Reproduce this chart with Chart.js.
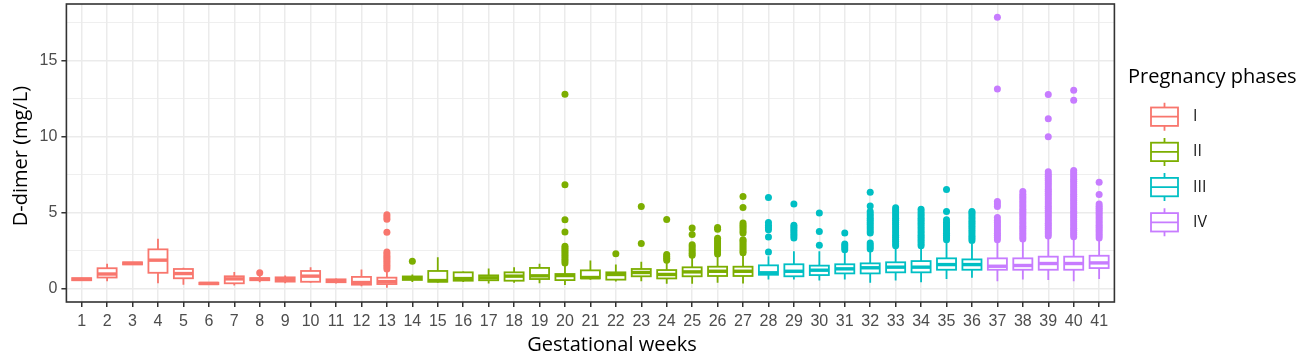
<!DOCTYPE html>
<html><head><meta charset="utf-8">
<script src="https://cdn.jsdelivr.net/npm/chart.js@4.4.1/dist/chart.umd.min.js"></script>
<style>html,body{margin:0;padding:0;background:#fff}#wrap{width:1307px;height:360px}</style>
</head><body><div id="wrap"><canvas id="c" width="1307" height="360"></canvas></div>
<script>
// ---------- data ----------
const weeks = [1,2,3,4,5,6,7,8,9,10,11,12,13,14,15,16,17,18,19,20,21,22,23,24,25,26,27,28,29,30,31,32,33,34,35,36,37,38,39,40,41];
const phaseOfWeek = [0,0,0,0,0,0,0,0,0,0,0,0,0, 1,1,1,1,1,1,1,1,1,1,1,1,1,1, 2,2,2,2,2,2,2,2,2, 3,3,3,3,3];
const phaseNames = ['I','II','III','IV'];
const phaseColors = ['#F8766D','#7CAE00','#00BFC4','#C77CFF'];
const whiskerLow  = [0.52,0.48,1.56,0.35,0.24,0.26,0.20,0.41,0.35,0.37,0.32,0.15,0.05,0.42,0.37,0.42,0.33,0.37,0.35,0.22,0.58,0.45,0.48,0.31,0.31,0.37,0.33,0.59,0.59,0.52,0.59,0.37,0.52,0.41,0.63,0.70,0.48,0.59,0.55,0.48,0.63];
const q1          = [0.54,0.72,1.58,1.03,0.67,0.28,0.34,0.54,0.45,0.44,0.41,0.25,0.29,0.56,0.44,0.51,0.54,0.51,0.62,0.55,0.66,0.58,0.80,0.66,0.80,0.82,0.82,0.90,0.80,0.88,0.99,0.99,1.06,1.06,1.23,1.23,1.23,1.23,1.23,1.23,1.34];
const median      = [0.60,0.95,1.65,1.86,0.98,0.33,0.63,0.61,0.58,0.81,0.50,0.39,0.45,0.67,0.52,0.65,0.70,0.81,0.83,0.85,0.72,0.92,1.05,0.92,1.09,1.13,1.13,1.03,1.13,1.20,1.29,1.36,1.40,1.40,1.57,1.57,1.46,1.51,1.64,1.64,1.68];
const q3          = [0.68,1.33,1.72,2.57,1.28,0.38,0.80,0.68,0.73,1.15,0.60,0.76,0.71,0.79,1.15,1.06,0.86,1.06,1.35,0.95,1.19,1.06,1.28,1.21,1.39,1.43,1.43,1.52,1.59,1.50,1.59,1.65,1.72,1.80,1.98,1.91,1.98,1.98,2.09,2.09,2.15];
const whiskerHigh = [0.70,1.62,1.74,3.27,1.36,0.40,1.09,0.85,0.85,1.40,0.66,1.24,1.20,0.92,2.05,1.12,1.31,1.40,1.62,1.57,1.83,1.57,1.75,1.79,2.12,2.20,2.20,2.12,2.44,2.44,2.38,2.55,2.66,2.70,3.10,2.95,3.03,3.16,3.38,3.30,3.25];
const outliers = [
  [], [], [], [], [], [], [],
  [1.03],
  [], [], [], [],
  [1.28,1.42,1.56,1.70,1.84,1.98,2.12,2.26,2.40,3.69,4.55,4.70,4.85],
  [1.79],
  [], [], [], [], [],
  [1.68,1.82,1.96,2.10,2.24,2.38,2.52,2.65,2.77,3.71,4.52,6.81,12.77],
  [],
  [2.29],
  [2.96,5.38],
  [1.85,1.98,2.10,2.23,4.53],
  [2.18,2.32,2.46,2.60,2.74,2.88,3.54,3.97],
  [2.27,2.40,2.53,2.66,2.79,2.92,3.05,3.18,3.30,3.90,4.00],
  [2.34,2.47,2.60,2.73,2.86,2.99,3.12,3.21,3.64,3.78,3.92,4.06,4.18,4.30,5.32,6.04],
  [2.40,3.38,3.86,4.00,4.16,4.34,5.98],
  [3.32,3.46,3.60,3.74,3.88,4.02,4.15,5.55],
  [2.84,3.75,4.96],
  [2.55,2.68,2.80,2.93,3.64],
  [2.60,2.73,2.86,2.99,3.64,3.78,3.92,4.06,4.20,4.34,4.48,4.62,4.76,4.90,5.06,5.42,6.32],
  [2.80,2.94,3.08,3.22,3.36,3.50,3.64,3.78,3.92,4.06,4.20,4.34,4.48,4.62,4.76,4.90,5.04,5.18,5.30],
  [2.80,2.94,3.08,3.22,3.36,3.50,3.64,3.78,3.92,4.06,4.20,4.34,4.48,4.62,4.76,4.90,5.04,5.20],
  [3.21,3.35,3.49,3.63,3.77,3.91,4.05,4.19,4.33,4.52,5.06,6.50],
  [3.16,3.30,3.44,3.58,3.72,3.86,4.00,4.14,4.28,4.42,4.56,4.70,4.84,4.98,5.06],
  [3.21,3.35,3.49,3.63,3.77,3.91,4.05,4.19,4.33,4.47,4.67,5.39,5.55,5.72,13.12,17.83],
  [3.25,3.39,3.53,3.67,3.81,3.95,4.09,4.23,4.37,4.51,4.65,4.79,4.93,5.07,5.21,5.35,5.49,5.63,5.77,5.91,6.05,6.19,6.37],
  [3.45,3.59,3.73,3.87,4.01,4.15,4.29,4.43,4.57,4.71,4.85,4.99,5.13,5.27,5.41,5.55,5.69,5.83,5.97,6.11,6.25,6.39,6.53,6.67,6.81,6.95,7.09,7.23,7.37,7.51,7.68,9.97,11.15,12.75],
  [3.40,3.54,3.68,3.82,3.96,4.10,4.24,4.38,4.52,4.66,4.80,4.94,5.08,5.22,5.36,5.50,5.64,5.78,5.92,6.06,6.20,6.34,6.48,6.62,6.76,6.90,7.04,7.18,7.32,7.46,7.60,7.75,12.38,13.03],
  [3.32,3.46,3.60,3.74,3.88,4.02,4.16,4.30,4.44,4.58,4.72,4.86,5.00,5.14,5.28,5.40,5.55,6.18,6.98]
];
const yMajorTicks = [0,5,10,15];
const yMinorTicks = [2.5,7.5,12.5,17.5];
const xTitle = 'Gestational weeks';
const yTitle = 'D-dimer (mg/L)';
const legendTitle = 'Pregnancy phases';

// ---------- styles ----------
const TITLE_FONT = '20px "Open Sans", "Noto Sans", sans-serif';
const TICK_FONT_FAMILY = '"Liberation Sans", Arial, sans-serif';
const colorOfIndex = i => phaseColors[phaseOfWeek[i]];
const LINE_W = 1.8, MEDIAN_W = 3.4;

const boxData = weeks.map((w, i) => ({x: w, y: [q1[i], q3[i]]}));
const outlierData = [];
outliers.forEach((arr, i) => arr.forEach(v => outlierData.push({x: weeks[i], y: v, p: phaseOfWeek[i]})));

const boxPlugin = {
  id: 'boxExtras',
  beforeDatasetsDraw(chart) {
    const {ctx, scales: {x, y}} = chart;
    ctx.save();
    ctx.lineWidth = LINE_W;
    ctx.lineCap = 'butt';
    weeks.forEach((w, i) => {
      const px = x.getPixelForValue(w);
      ctx.strokeStyle = colorOfIndex(i);
      ctx.beginPath();
      ctx.moveTo(px, y.getPixelForValue(whiskerHigh[i]));
      ctx.lineTo(px, y.getPixelForValue(q3[i]));
      ctx.moveTo(px, y.getPixelForValue(q1[i]));
      ctx.lineTo(px, y.getPixelForValue(whiskerLow[i]));
      ctx.stroke();
    });
    ctx.restore();
  },
  afterDatasetsDraw(chart) {
    const {ctx, scales: {y}} = chart;
    const meta = chart.getDatasetMeta(0);
    ctx.save();
    meta.data.forEach((bar, i) => {
      const left = bar.x - bar.width / 2, right = bar.x + bar.width / 2;
      const top = Math.min(bar.y, bar.base), bottom = Math.max(bar.y, bar.base);
      ctx.strokeStyle = colorOfIndex(i);
      ctx.lineWidth = LINE_W;
      ctx.strokeRect(left, top, right - left, bottom - top);
      ctx.lineWidth = MEDIAN_W;
      const my = y.getPixelForValue(median[i]);
      ctx.beginPath();
      ctx.moveTo(left, my);
      ctx.lineTo(right, my);
      ctx.stroke();
    });
    ctx.restore();
  },
  afterDraw(chart) {
    const {ctx, chartArea: a} = chart;
    ctx.save();
    // panel border
    ctx.strokeStyle = '#333333';
    ctx.lineWidth = 1.6;
    ctx.strokeRect(a.left, a.top, a.right - a.left, a.bottom - a.top);
    // axis titles
    ctx.fillStyle = '#000';
    ctx.font = TITLE_FONT;
    ctx.textAlign = 'center';
    ctx.textBaseline = 'middle';
    ctx.fillText(xTitle, 612, 345);
    ctx.save();
    ctx.translate(21, 156);
    ctx.rotate(-Math.PI / 2);
    ctx.fillText(yTitle, 0, 0);
    ctx.restore();
    // legend
    ctx.textAlign = 'left';
    ctx.textBaseline = 'alphabetic';
    ctx.fillText(legendTitle, 1128, 83);
    phaseNames.forEach((name, k) => {
      const cy = 116.7 + k * 35.2;
      const l = 1151, r = 1178, cx = (l + r) / 2;
      ctx.strokeStyle = phaseColors[k];
      ctx.lineWidth = LINE_W;
      ctx.beginPath();
      ctx.moveTo(cx, cy - 14); ctx.lineTo(cx, cy - 9.2);
      ctx.moveTo(cx, cy + 9.2); ctx.lineTo(cx, cy + 14);
      ctx.moveTo(l, cy); ctx.lineTo(r, cy);
      ctx.stroke();
      ctx.strokeRect(l, cy - 9.2, r - l, 18.4);
      ctx.fillStyle = '#1a1a1a';
      ctx.font = '16px "Open Sans", "Noto Sans", sans-serif';
      ctx.textBaseline = 'middle';
      ctx.fillText(name, 1193, cy);
      ctx.textBaseline = 'alphabetic';
      ctx.font = TITLE_FONT;
    });
    ctx.restore();
  }
};

new Chart(document.getElementById('c'), {
  type: 'bar',
  data: {
    datasets: [
      {
        type: 'bar',
        data: boxData,
        backgroundColor: '#ffffff',
        borderWidth: 0,
        barPercentage: 0.9375,
        categoryPercentage: 0.8,
        order: 1
      },
      {
        type: 'scatter',
        data: outlierData,
        pointRadius: 3.5,
        pointBorderWidth: 0,
        pointBackgroundColor: c => phaseColors[c.raw ? c.raw.p : 0],
        pointBorderColor: 'rgba(0,0,0,0)',
        order: 2
      }
    ]
  },
  options: {
    responsive: false,
    animation: false,
    events: [],
    layout: {padding: {top: 3, right: 192.6, left: 0, bottom: 0}},
    plugins: {legend: {display: false}, tooltip: {enabled: false}},
    scales: {
      x: {
        type: 'linear',
        min: 0.4, max: 41.6,
        offset: false,
        afterBuildTicks: s => { s.ticks = weeks.map(w => ({value: w})); },
        afterFit: s => { s.height = 58; s.paddingLeft = 0; s.paddingRight = 0; s.paddingTop = 0; s.paddingBottom = 0; },
        ticks: {
          autoSkip: false, maxRotation: 0, minRotation: 0,
          color: '#4D4D4D', padding: 5,
          font: {family: TICK_FONT_FAMILY, size: 16},
          callback: v => String(v)
        },
        grid: {offset: false, color: '#EBEBEB', lineWidth: 1.5, tickLength: 5, tickColor: '#333333', tickWidth: 1.5},
        border: {display: false}
      },
      y: {
        type: 'linear',
        min: -0.89, max: 18.7,
        afterBuildTicks: s => { s.ticks = yMajorTicks.concat(yMinorTicks).sort((a, b) => a - b).map(v => ({value: v})); },
        afterFit: s => { s.width = 66.4; s.paddingTop = 0; s.paddingBottom = 0; s.paddingLeft = 0; s.paddingRight = 0; },
        ticks: {
          color: '#4D4D4D', padding: 4,
          font: {family: TICK_FONT_FAMILY, size: 16},
          callback: v => yMajorTicks.includes(v) ? String(v) : ''
        },
        grid: {
          color: '#EBEBEB',
          lineWidth: c => yMajorTicks.includes(c.tick.value) ? 1.5 : 0.8,
          tickLength: 5,
          tickColor: c => yMajorTicks.includes(c.tick.value) ? '#333333' : 'rgba(0,0,0,0)',
          tickWidth: 1.5
        },
        border: {display: false}
      }
    }
  },
  plugins: [boxPlugin]
});
</script>
</body></html>
